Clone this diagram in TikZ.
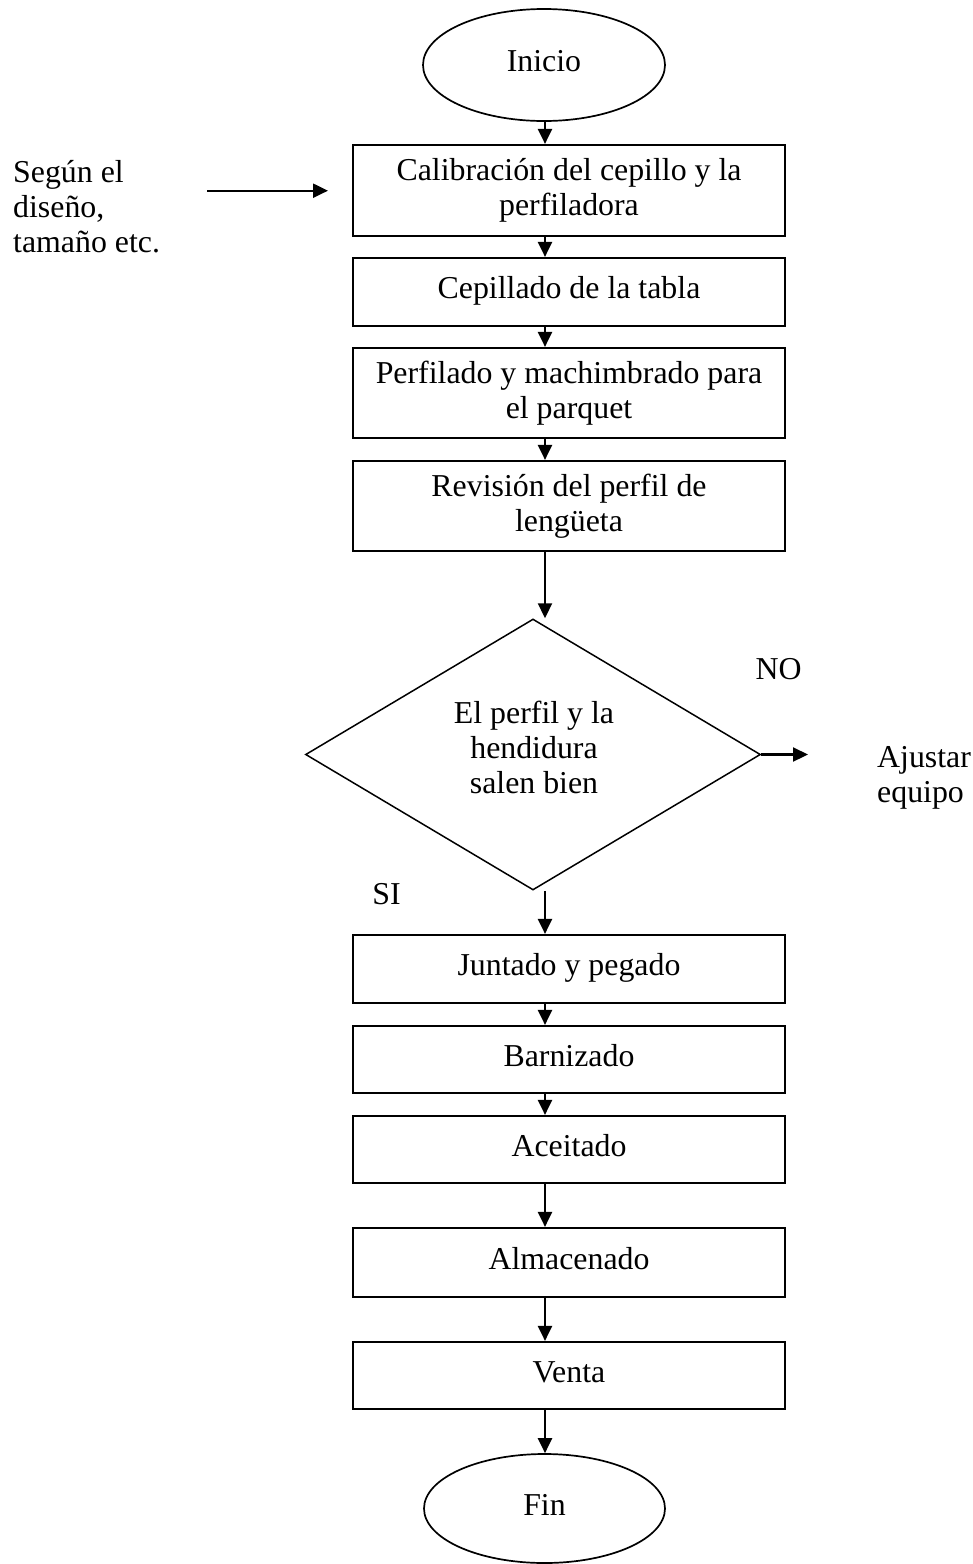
\documentclass[tikz,border=0pt]{standalone}
\usepackage{fontspec}
\setmainfont{Liberation Serif}
\usetikzlibrary{arrows.meta,shapes.geometric}
\begin{document}
\begin{tikzpicture}[x=1pt,y=1pt,
  every node/.style={font=\fontsize{31.85}{35}\selectfont},
  stepbox/.style={draw, line width=2.2pt, minimum width=432pt, inner sep=0pt, align=center},
  oneline/.style={text height=22pt, text depth=8.5pt},
  term/.style={ellipse, draw, line width=1.7pt, inner sep=0pt, text height=22pt, text depth=8.5pt},
  decision/.style={diamond, draw, line width=1.5pt, inner sep=0pt},
  plain/.style={inner sep=0pt},
  arr/.style={line width=2.2pt, -{Triangle[length=15pt,width=14pt]}}]
\useasboundingbox (0,0) rectangle (973,-1564);

% terminals
\node[term, minimum width=242pt, minimum height=112pt] (st) at (544,-65) {Inicio};
\node[term, minimum width=241pt, minimum height=109pt] (en) at (544.5,-1508.5) {Fin};

% process boxes
\node[stepbox, minimum height=91pt] (b1) at (569,-190.5) {Calibración del cepillo y la\\perfiladora};
\node[stepbox, oneline, minimum height=68pt] (b2) at (569,-292) {Cepillado de la tabla};
\node[stepbox, minimum height=90pt] (b3) at (569,-393) {Perfilado y machimbrado para\\el parquet};
\node[stepbox, minimum height=90pt] (b4) at (569,-506) {Revisión del perfil de\\lengüeta};
\node[stepbox, oneline, minimum height=68pt] (b5) at (569,-969) {Juntado y pegado};
\node[stepbox, oneline, minimum height=67pt] (b6) at (569,-1059.5) {Barnizado};
\node[stepbox, oneline, minimum height=67pt] (b7) at (569,-1149.5) {Aceitado};
\node[stepbox, oneline, minimum height=69pt] (b8) at (569,-1262.5) {Almacenado};
\node[stepbox, oneline, minimum height=67pt] (b9) at (569,-1375.5) {Venta};

% decision
\node[decision, minimum width=455pt, minimum height=271pt] (dm) at (533,-754.5) {};
\node[plain, anchor=north, align=center] (dmt) at (534,-701.2) {El perfil y la\\hendidura\\salen bien};

% side texts
\node[plain, anchor=north west, align=left] (seg) at (13,-160.2) {Según el\\diseño,\\tamaño etc.};
\node[plain, anchor=north west, align=left] (aj) at (877,-746.2) {Ajustar\\equipo};
\node[plain, anchor=base] (no) at (778.5,-679) {NO};
\node[plain, anchor=base] (si) at (386.5,-904) {SI};

% connector helpers
\coordinate (ax) at (545,0);
\coordinate (lfrom) at (207,-190.7);
\coordinate (lto) at (328,-190.7);
\coordinate (noend) at (808,-754.5);

% connectors
\draw[arr] (st.south -| ax) -- (b1.north -| ax);
\draw[arr] (b1.south -| ax) -- (b2.north -| ax);
\draw[arr] (b2.south -| ax) -- (b3.north -| ax);
\draw[arr] (b3.south -| ax) -- (b4.north -| ax);
\draw[arr] (b4.south -| ax) -- (dm.north -| ax);
\draw[arr] (dm.south -| ax) -- (b5.north -| ax);
\draw[arr] (b5.south -| ax) -- (b6.north -| ax);
\draw[arr] (b6.south -| ax) -- (b7.north -| ax);
\draw[arr] (b7.south -| ax) -- (b8.north -| ax);
\draw[arr] (b8.south -| ax) -- (b9.north -| ax);
\draw[arr] (b9.south -| ax) -- (en.north -| ax);
\draw[arr] (dm.east) -- (noend);
\draw[arr] (lfrom) -- (lto);
\end{tikzpicture}
\end{document}
